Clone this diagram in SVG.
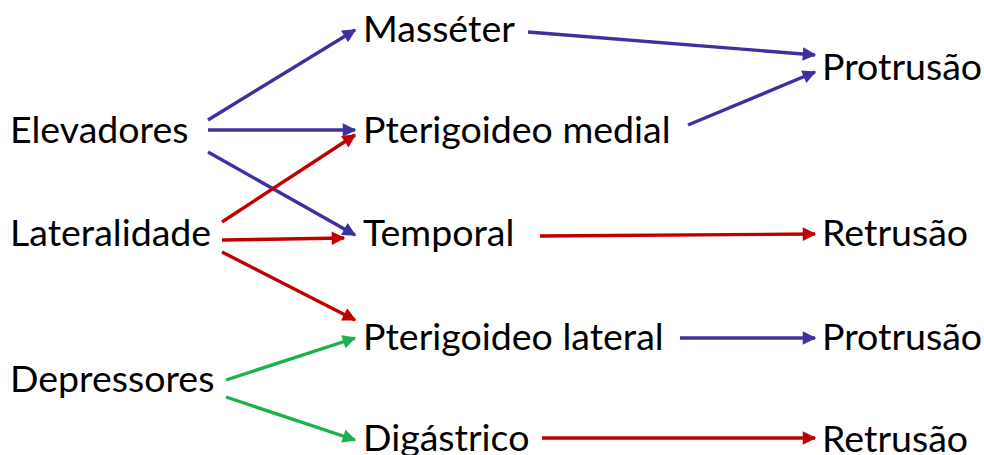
<svg xmlns="http://www.w3.org/2000/svg" width="984" height="455" viewBox="0 0 984 455">
<style>
text{font-family:Lato,"Noto Sans",sans-serif;font-size:37.5px;fill:#000}
.b{stroke:#3f30a0;stroke-width:3.4;fill:none}
.r{stroke:#c00000;stroke-width:3.4;fill:none}
.g{stroke:#1db04e;stroke-width:3.4;fill:none}
</style>
<defs>
<marker id="mb" viewBox="0 0 10 10" refX="9" refY="5" markerWidth="4.5" markerHeight="4" orient="auto" markerUnits="strokeWidth"><path d="M0,0L10,5L0,10z" fill="#3f30a0"/></marker>
<marker id="mr" viewBox="0 0 10 10" refX="9" refY="5" markerWidth="4.5" markerHeight="4" orient="auto" markerUnits="strokeWidth"><path d="M0,0L10,5L0,10z" fill="#c00000"/></marker>
<marker id="mg" viewBox="0 0 10 10" refX="9" refY="5" markerWidth="4.5" markerHeight="4" orient="auto" markerUnits="strokeWidth"><path d="M0,0L10,5L0,10z" fill="#1db04e"/></marker>
</defs>
<g id="connectors">
<line class="b" x1="208" y1="120" x2="355" y2="30" marker-end="url(#mb)"/>
<line class="b" x1="208" y1="130" x2="355" y2="130" marker-end="url(#mb)"/>
<line class="b" x1="208" y1="152" x2="355" y2="235" marker-end="url(#mb)"/>
<line class="r" x1="222" y1="222" x2="355" y2="135" marker-end="url(#mr)"/>
<line class="r" x1="222" y1="240" x2="344" y2="238" marker-end="url(#mr)"/>
<line class="r" x1="222" y1="252" x2="355" y2="320" marker-end="url(#mr)"/>
<line class="g" x1="226" y1="380" x2="355" y2="338" marker-end="url(#mg)"/>
<line class="g" x1="226" y1="397" x2="355" y2="440" marker-end="url(#mg)"/>
<line class="b" x1="528" y1="32" x2="815" y2="55" marker-end="url(#mb)"/>
<line class="b" x1="688" y1="125" x2="815" y2="72" marker-end="url(#mb)"/>
<line class="r" x1="540" y1="236" x2="815" y2="234" marker-end="url(#mr)"/>
<line class="b" x1="680" y1="338" x2="815" y2="338" marker-end="url(#mb)"/>
<line class="r" x1="542" y1="438" x2="815" y2="438" marker-end="url(#mr)"/>
</g>
<g id="elevadores"><text x="10" y="143">Elevadores</text></g>
<g id="lateralidade"><text x="10" y="246">Lateralidade</text></g>
<g id="depressores"><text x="10" y="392">Depressores</text></g>
<g id="masseter"><text x="363" y="42">Masséter</text></g>
<g id="pterigoideo-medial"><text x="363" y="143">Pterigoideo medial</text></g>
<g id="temporal"><text x="363" y="246">Temporal</text></g>
<g id="pterigoideo-lateral"><text x="363" y="350">Pterigoideo lateral</text></g>
<g id="digastrico"><text x="363" y="451">Digástrico</text></g>
<g id="protrusao1"><text x="822" y="80">Protrusão</text></g>
<g id="retrusao1"><text x="822" y="246">Retrusão</text></g>
<g id="protrusao2"><text x="822" y="350">Protrusão</text></g>
<g id="retrusao2"><text x="822" y="452">Retrusão</text></g>
</svg>
